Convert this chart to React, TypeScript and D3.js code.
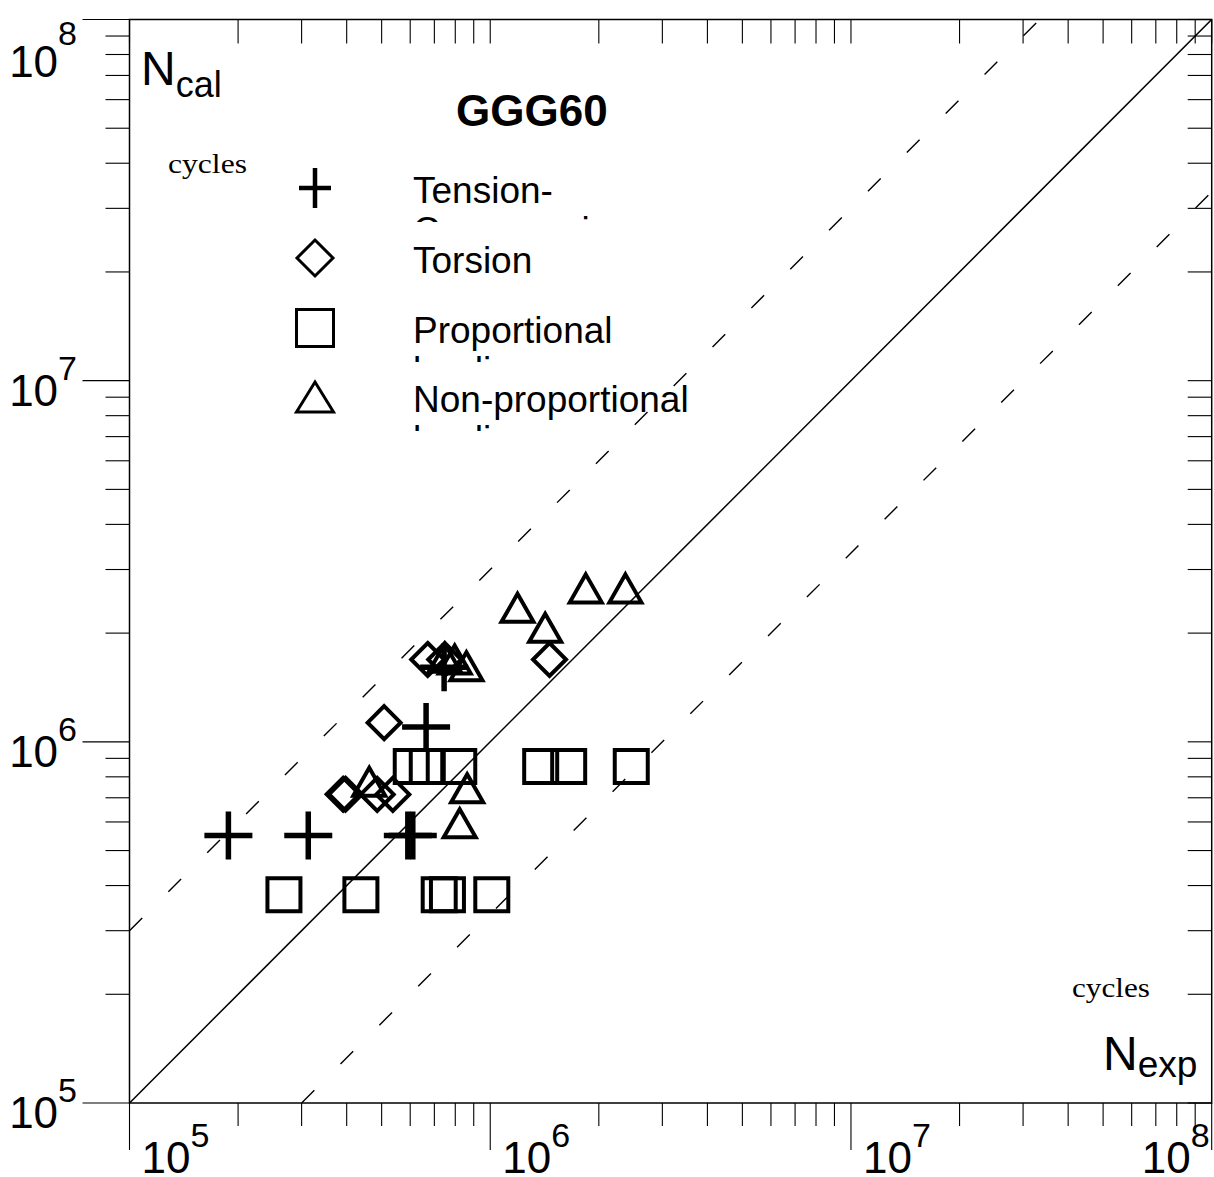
import React from 'react';
import * as d3 from 'd3';

const W = 1214;
const H = 1177;

// axis decades (both axes: 10^5 .. 10^8 cycles)
const decades = [1e5, 1e6, 1e7, 1e8];
const decadeExp = ['5', '6', '7', '8'];
const minorMult = [2, 3, 4, 5, 6, 7, 8, 9];

// scatter band: N_cal = 3*N_exp and N_cal = N_exp/3
const scatterFactor = 3;

// [N_exp, N_cal]
const tensionCompression = [
  [1.88e5, 5.5e5],
  [3.13e5, 5.5e5],
  [5.91e5, 5.5e5],
  [6.1e5, 5.5e5],
  [6.64e5, 1.1e6],
  [7.45e5, 1.61e6],
];
const torsion = [
  [6.71e5, 1.69e6],
  [7.48e5, 1.69e6],
  [5.08e5, 1.13e6],
  [3.91e5, 7.16e5],
  [3.97e5, 7.16e5],
  [4.86e5, 7.15e5],
  [5.37e5, 7.15e5],
  [1.46e6, 1.69e6],
];
const proportional = [
  [6.04e5, 8.55e5],
  [6.69e5, 8.55e5],
  [8.18e5, 8.55e5],
  [1.38e6, 8.55e5],
  [1.65e6, 8.55e5],
  [2.46e6, 8.55e5],
  [2.68e5, 3.77e5],
  [4.38e5, 3.77e5],
  [7.22e5, 3.77e5],
  [7.61e5, 3.77e5],
  [1.01e6, 3.77e5],
];
const nonProportional = [
  [4.62e5, 7.75e5],
  [8.63e5, 7.44e5],
  [8.23e5, 5.95e5],
  [7.48e5, 1.71e6],
  [7.97e5, 1.69e6],
  [8.59e5, 1.62e6],
  [1.19e6, 2.35e6],
  [1.42e6, 2.07e6],
  [1.84e6, 2.66e6],
  [2.37e6, 2.66e6],
];

const legendLabels = [
  ['Tension-', 'Compression'],
  ['Torsion'],
  ['Proportional', 'loading'],
  ['Non-proportional', 'loading'],
];
const legendShapes = ['plus', 'diamond', 'square', 'triangle'];

const SANS = 'Liberation Sans, Arial, sans-serif';
const SERIF = 'Liberation Serif, Times New Roman, serif';

// marker outlines
const plusPath = (cx, cy, hw, hh) => {
  const p = d3.path();
  p.moveTo(cx - hw, cy);
  p.lineTo(cx + hw, cy);
  p.moveTo(cx, cy - hh);
  p.lineTo(cx, cy + hh);
  return p.toString();
};
const diamondPath = (cx, cy, r) => {
  const p = d3.path();
  p.moveTo(cx, cy - r);
  p.lineTo(cx + r, cy);
  p.lineTo(cx, cy + r);
  p.lineTo(cx - r, cy);
  p.closePath();
  return p.toString();
};
const squarePath = (cx, cy, s) => {
  const p = d3.path();
  p.rect(cx - s / 2, cy - s / 2, s, s);
  return p.toString();
};
const trianglePath = (cx, cy, hw, h) => {
  const p = d3.path();
  p.moveTo(cx, cy - h / 2);
  p.lineTo(cx + hw, cy + h / 2);
  p.lineTo(cx - hw, cy + h / 2);
  p.closePath();
  return p.toString();
};

const markerPath = (shape, cx, cy, legend) => {
  if (shape === 'plus') return legend ? plusPath(cx, cy, 16, 20) : plusPath(cx, cy, 24, 24);
  if (shape === 'diamond') return legend ? diamondPath(cx, cy, 18) : diamondPath(cx, cy, 16.5);
  if (shape === 'square') return legend ? squarePath(cx, cy, 37) : squarePath(cx, cy, 33);
  return legend ? trianglePath(cx, cy, 18.5, 30) : trianglePath(cx, cy, 16, 28);
};

const App = () => {
  const x = d3.scaleLog().domain([1e5, 1e8]).range([129.5, 1211.7]);
  const y = d3.scaleLog().domain([1e5, 1e8]).range([1103, 19.5]);
  const [x0, x1] = x.range();
  const [y0, y1] = y.range();

  const minors = [];
  decades.slice(0, -1).forEach((d) => minorMult.forEach((m) => minors.push(m * d)));

  const lineGen = d3
    .line()
    .x((d) => x(d[0]))
    .y((d) => y(d[1]));

  const diag = lineGen([
    [1e5, 1e5],
    [1e8, 1e8],
  ]);
  const upper = lineGen([
    [1e5, 1e5 * scatterFactor],
    [1e8 / scatterFactor, 1e8],
  ]);
  const lower = lineGen([
    [1e5 * scatterFactor, 1e5],
    [1e8, 1e8 / scatterFactor],
  ]);

  const series = [
    { shape: 'plus', data: tensionCompression, sw: 5.5 },
    { shape: 'diamond', data: torsion, sw: 4 },
    { shape: 'square', data: proportional, sw: 4 },
    { shape: 'triangle', data: nonProportional, sw: 4 },
  ];

  const legendBase = [203, 273, 343, 412];

  return (
    <>
      <style>{'body{margin:0}'}</style>
      <svg width={W} height={H} style={{ display: 'block', background: '#fff' }} fontFamily={SANS}>
        <defs>
          <clipPath id="plot">
            <rect x={x0} y={y1} width={x1 - x0} height={y0 - y1} />
          </clipPath>
          {legendBase.map((b, i) => (
            <clipPath id={`leg${i}`} key={i}>
              <rect x={400} y={b - 45} width={400} height={64} />
            </clipPath>
          ))}
        </defs>

        {/* frame */}
        <rect x={x0} y={y1} width={x1 - x0} height={y0 - y1} fill="none" stroke="#000" strokeWidth={1.5} />

        {/* bottom ticks (outside) */}
        {minors.map((v) => (
          <line key={`bm${v}`} x1={x(v)} x2={x(v)} y1={y0} y2={y0 + 23} stroke="#000" strokeWidth={1.1} />
        ))}
        {decades.map((v) => (
          <line key={`bM${v}`} x1={x(v)} x2={x(v)} y1={y0} y2={y0 + 47} stroke="#000" strokeWidth={1.1} />
        ))}
        {/* top ticks (inside) */}
        {minors.concat(decades).map((v) => (
          <line key={`t${v}`} x1={x(v)} x2={x(v)} y1={y1} y2={y1 + 24} stroke="#000" strokeWidth={1.1} />
        ))}
        {/* left ticks (outside) */}
        {minors.map((v) => (
          <line key={`lm${v}`} x1={x0 - 24} x2={x0} y1={y(v)} y2={y(v)} stroke="#000" strokeWidth={1.1} />
        ))}
        {decades.map((v) => (
          <line key={`lM${v}`} x1={x0 - 47} x2={x0} y1={y(v)} y2={y(v)} stroke="#000" strokeWidth={1.1} />
        ))}
        {/* right ticks (inside) */}
        {minors.concat(decades).map((v) => (
          <line key={`r${v}`} x1={x1 - 24} x2={x1} y1={y(v)} y2={y(v)} stroke="#000" strokeWidth={1.1} />
        ))}

        {/* y tick labels */}
        {decades.map((v, i) => {
          const base = Math.max(y(v) + 25, 77);
          const supBase = Math.max(y(v) - 1, 45);
          return (
            <text key={`yl${v}`} x={77} y={base} textAnchor="end" fontSize={44}>
              10
              <tspan fontSize={34} dy={supBase - base}>
                {decadeExp[i]}
              </tspan>
            </text>
          );
        })}
        {/* x tick labels */}
        {decades.map((v, i) => {
          const last = i === decades.length - 1;
          return (
            <text
              key={`xl${v}`}
              x={last ? x1 - 2 : x(v) + 12}
              y={1173}
              textAnchor={last ? 'end' : 'start'}
              fontSize={44}
            >
              10
              <tspan fontSize={34} dy={-26}>
                {decadeExp[i]}
              </tspan>
            </text>
          );
        })}

        {/* reference lines */}
        <g clipPath="url(#plot)">
          <path d={diag} fill="none" stroke="#000" strokeWidth={1.5} />
          <path d={upper} fill="none" stroke="#000" strokeWidth={1.4} strokeDasharray="18 37" />
          <path d={lower} fill="none" stroke="#000" strokeWidth={1.4} strokeDasharray="18 37" />
        </g>

        {/* data */}
        <g clipPath="url(#plot)">
          {series.map((s) =>
            s.data.map((d, j) => (
              <path
                key={`${s.shape}${j}`}
                d={markerPath(s.shape, x(d[0]), y(d[1]), false)}
                fill="none"
                stroke="#000"
                strokeWidth={s.sw}
                strokeLinejoin="miter"
              />
            ))
          )}
        </g>

        {/* axis titles */}
        <text x={141} y={85} fontSize={48}>
          N
          <tspan fontSize={36} dy={12}>
            cal
          </tspan>
        </text>
        <text x={168} y={173} fontSize={28} fontFamily={SERIF} textLength={79} lengthAdjust="spacingAndGlyphs">
          cycles
        </text>
        <text x={1103} y={1070} fontSize={48}>
          N
          <tspan fontSize={37} dy={7}>
            exp
          </tspan>
        </text>
        <text x={1072} y={997} fontSize={28} fontFamily={SERIF} textLength={78} lengthAdjust="spacingAndGlyphs">
          cycles
        </text>

        <text x={456} y={126} fontSize={44} fontWeight="bold">
          GGG60
        </text>

        {/* legend */}
        {legendLabels.map((lab, i) => {
          const b = legendBase[i];
          return (
            <g key={`leg${i}`}>
              <path
                d={markerPath(legendShapes[i], 315, b - 15, true)}
                fill="none"
                stroke="#000"
                strokeWidth={legendShapes[i] === 'plus' ? 4.5 : 3}
              />
              <g clipPath={`url(#leg${i})`}>
                {lab.map((t, k) => (
                  <text key={k} x={413} y={b + k * 40} fontSize={37}>
                    {t}
                  </text>
                ))}
              </g>
            </g>
          );
        })}
      </svg>
    </>
  );
};

export default App;
